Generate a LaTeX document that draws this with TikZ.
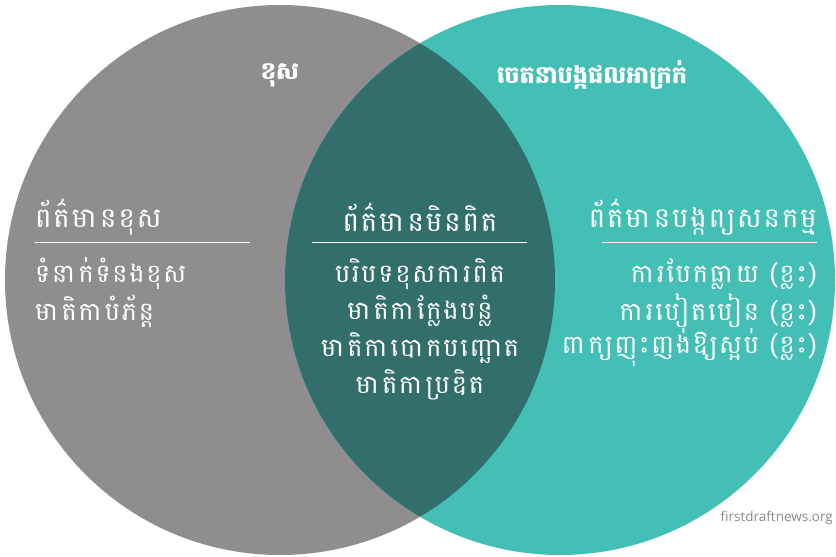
\documentclass[tikz,border=0pt]{standalone}
\usepackage{fontspec}
\newfontfamily\kh[Script=Khmer,LetterSpace=7]{Battambang}
\newfontfamily\khb[Script=Khmer]{Battambang}
\setsansfont{Open Sans}
\definecolor{cgray}{HTML}{8F8D8E}
\definecolor{cteal}{HTML}{44BFB6}
\definecolor{cdark}{HTML}{326F6A}
\definecolor{cfoot}{HTML}{8A8A8A}
\begin{document}
\begin{tikzpicture}[x=1pt,y=-1pt,
  lbl/.style={text=white,font=\kh\fontsize{25.5}{30}\selectfont,inner sep=0pt},
  head/.style={lbl,font=\kh\fontsize{27.5}{30}\selectfont},
  top/.style={text=white,font=\khb\bfseries\fontsize{24}{28}\selectfont,inner sep=0pt},
  rule/.style={draw=white,line width=1pt}]
\useasboundingbox[fill=white] (0,0) rectangle (836,557);
\fill[cgray] (280,280) circle[radius=275];
\fill[cteal] (560,280) circle[radius=275];
\begin{scope}
\clip (280,280) circle[radius=275];
\fill[cdark] (560,280) circle[radius=275];
\end{scope}
% top labels
\node[top] (t1) at (280,75) {ខុស};
\node[top] (t2) at (592,75) {ចេតនាបង្កផលអាក្រក់};
% left
\node[head,anchor=west] (lh) at (35,217) {ព័ត៌មានខុស};
\coordinate (l1) at (35,242); \coordinate (l2) at (250,242);
\draw[rule] (l1) -- (l2);
\node[lbl,anchor=west] (la) at (35,274) {ទំនាក់ទំនងខុស};
\node[lbl,anchor=west] (lb) at (35,311) {មាតិកាបំភ័ន្ត};
% centre
\node[head] (ch) at (420,217) {ព័ត៌មានមិនពិត};
\coordinate (c1) at (312,242); \coordinate (c2) at (527,242);
\draw[rule] (c1) -- (c2);
\node[lbl] (ca) at (420,274) {បរិបទខុសការពិត};
\node[lbl] (cb) at (420,311) {មាតិកាក្លែងបន្លំ};
\node[lbl] (cc) at (420,348) {មាតិកាបោកបញ្ឆោត};
\node[lbl] (cd) at (420,385) {មាតិកាប្រឌិត};
% right
\node[head,anchor=east] (rh) at (817,217) {ព័ត៌មានបង្កព្យសនកម្ម};
\coordinate (r1) at (602,242); \coordinate (r2) at (817,242);
\draw[rule] (r1) -- (r2);
\node[lbl,anchor=east] (ra) at (817,274) {ការបែកធ្លាយ (ខ្លះ)};
\node[lbl,anchor=east] (rb) at (817,311) {ការបៀតបៀន (ខ្លះ)};
\node[lbl,anchor=east] (rc) at (817,348) {ពាក្យញុះញង់ឱ្យស្អប់ (ខ្លះ)};
% footer
\node[anchor=east,text=cfoot,font=\sffamily\fontsize{13.5}{16}\selectfont,inner sep=0pt] (ft) at (833,518) {firstdraftnews.org};
\end{tikzpicture}
\end{document}
